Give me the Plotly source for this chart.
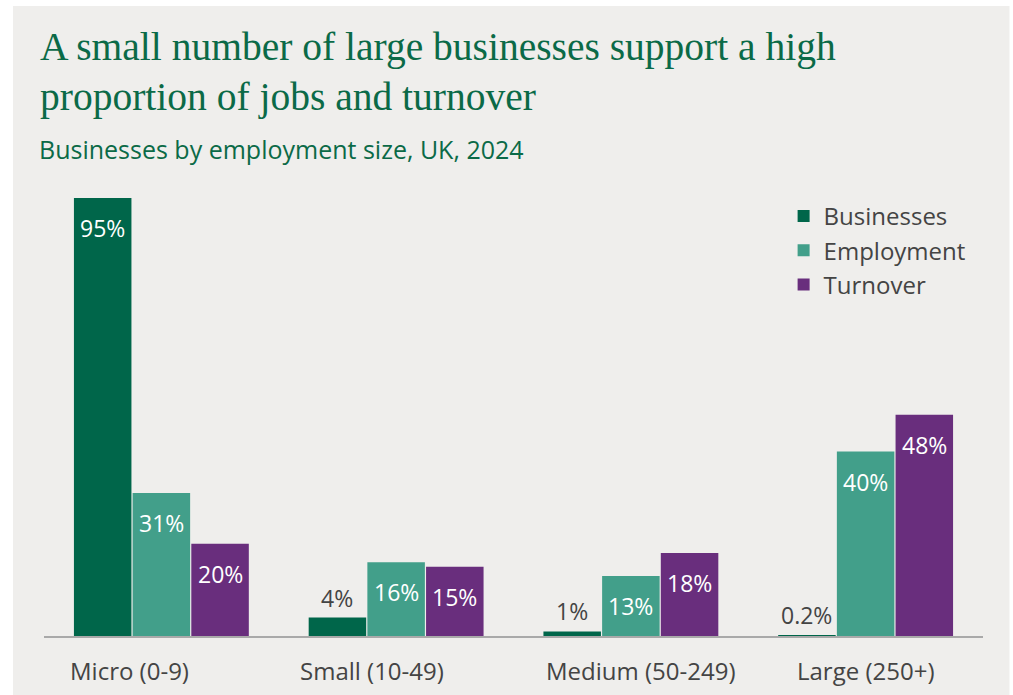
import plotly.graph_objects as go

categories = ["Micro (0-9)", "Small (10-49)", "Medium (50-249)", "Large (250+)"]
businesses = [95, 4, 1, 0.2]
employment = [31, 16, 13, 40]
turnover = [20, 15, 18, 48]
value_labels = {
    "Businesses": ["95%", "4%", "1%", "0.2%"],
    "Employment": ["31%", "16%", "13%", "40%"],
    "Turnover": ["20%", "15%", "18%", "48%"],
}

GREEN = "#00664A"
TEAL = "#429F8A"
PURPLE = "#692E7D"
PANEL = "#EFEEEC"
TITLE_GREEN = "#0B6A47"
TEXT_GREY = "#444444"
LABEL_FONT = "Open Sans"

series = [
    ("Businesses", businesses, GREEN),
    ("Employment", employment, TEAL),
    ("Turnover", turnover, PURPLE),
]

fig = go.Figure()
for name, vals, color in series:
    fig.add_trace(go.Bar(
        name=name, x=categories, y=vals,
        marker=dict(color=color, line=dict(width=0)),
        hoverinfo="skip",
    ))

L, R, T, B = 44, 29.5, 175, 59
W, H = 1013, 695
pw, ph = W - L - R, H - T - B

def px_x(p):
    return (p - L) / pw

def px_y(p):
    return (H - B - p) / ph

# value labels: inside near the top for tall bars, just above for short ones
annotations = []
offsets = {"Businesses": -1, "Employment": 0, "Turnover": 1}
bar_px = 58.8
for name, vals, color in series:
    for i, v in enumerate(vals):
        txt = value_labels[name][i]
        inside = v >= 10
        annotations.append(dict(
            x=categories[i], y=v, xref="x", yref="y",
            text=txt, showarrow=False,
            xshift=offsets[name] * bar_px,
            yshift=-30 if inside else 20,
            yanchor="middle",
            font=dict(family=LABEL_FONT, size=23,
                      color="white" if inside else TEXT_GREY),
        ))

# category labels below the axis line
cat_shift = [-32, -24, 10, 0]
for i, c in enumerate(categories):
    annotations.append(dict(
        x=c, y=0, xref="x", yref="y", text=c, showarrow=False,
        xshift=cat_shift[i], yshift=-34, yanchor="middle",
        font=dict(family=LABEL_FONT, size=24, color=TEXT_GREY),
    ))

# heading block
annotations += [
    dict(xref="paper", yref="paper", x=px_x(38), y=px_y(71), xanchor="left", yanchor="bottom",
         text="A small number of large businesses support a high", showarrow=False,
         font=dict(family="Liberation Serif", size=39.5, color=TITLE_GREEN)),
    dict(xref="paper", yref="paper", x=px_x(38), y=px_y(121), xanchor="left", yanchor="bottom",
         text="proportion of jobs and turnover", showarrow=False,
         font=dict(family="Liberation Serif", size=39.5, color=TITLE_GREEN)),
    dict(xref="paper", yref="paper", x=px_x(37), y=px_y(149), xanchor="left", yanchor="middle",
         text="Businesses by employment size, UK, 2024", showarrow=False,
         font=dict(family=LABEL_FONT, size=25, color=TITLE_GREEN)),
]

fig.update_layout(
    width=W, height=H,
    margin=dict(l=L, r=R, t=T, b=B, pad=0),
    paper_bgcolor="white",
    plot_bgcolor=PANEL,
    barmode="group",
    bargap=0.25,
    bargroupgap=0.02,
    showlegend=True,
    legend=dict(
        x=px_x(784), y=px_y(194), xanchor="left", yanchor="top",
        bgcolor="rgba(0,0,0,0)", traceorder="normal",
        font=dict(family=LABEL_FONT, size=24, color=TEXT_GREY),
        itemwidth=30, tracegroupgap=2,
    ),
    xaxis=dict(
        range=[-0.5, 3.5], showticklabels=False, showgrid=False,
        showline=True, linecolor="#A9A9A9", linewidth=2, ticks="",
        zeroline=False, fixedrange=True,
    ),
    yaxis=dict(
        range=[0, 100], visible=False, showgrid=False, zeroline=False,
        fixedrange=True,
    ),
    annotations=annotations,
    shapes=[dict(
        type="rect", xref="paper", yref="paper",
        x0=px_x(13), x1=px_x(1010), y0=px_y(695), y1=px_y(6),
        fillcolor=PANEL, line=dict(width=0), layer="below",
    )],
)

fig.write_html("out.html")
